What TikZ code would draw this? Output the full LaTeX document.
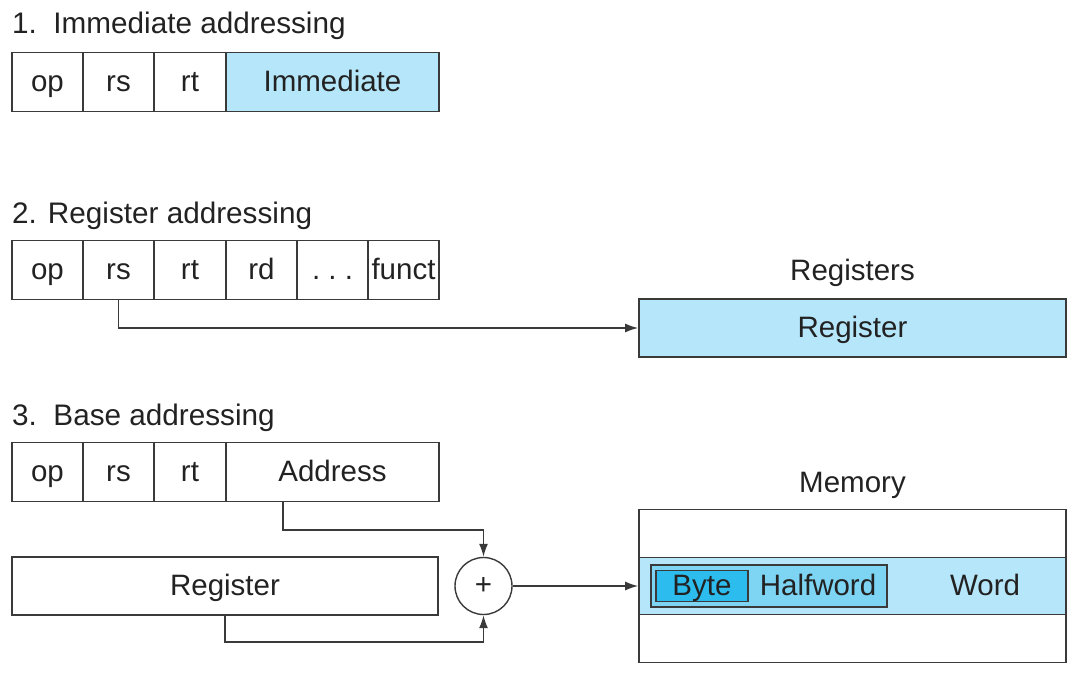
\documentclass[tikz,border=0pt]{standalone}
\usepackage{fontspec}
\setmainfont{Liberation Sans}
\usetikzlibrary{arrows.meta}
\definecolor{lineC}{HTML}{3A3A3A}
\definecolor{lightB}{HTML}{B5E6F9}
\definecolor{midB}{HTML}{7DD4F3}
\definecolor{byteB}{HTML}{2CBDEE}
\definecolor{txtC}{HTML}{222222}
\tikzset{
  cell/.style={draw=lineC, line width=1.6pt, minimum height=59pt, inner sep=0pt, text=txtC, text height=22pt, text depth=4pt},
  titletxt/.style={anchor=base west, inner sep=0pt, text=txtC, font=\fontsize{29.7}{34}\selectfont},
  plain/.style={inner sep=0pt, text=txtC, text height=22pt, text depth=4pt},
  conn/.style={draw=lineC, line width=1.5pt},
  arr/.style={conn, -{Latex[length=13pt,width=9pt]}},
}
\begin{document}
\begin{tikzpicture}[x=1pt,y=-1pt, font=\fontsize{29.5}{34}\selectfont]
\useasboundingbox (0,0) rectangle (1085,675);

% 1. Immediate addressing
\node[titletxt] (t1) at (12,33.5) {1.\ \ Immediate addressing};
\node[cell, minimum width=71pt] (a1) at (47.5,82) {op};
\node[cell, minimum width=71pt] (a2) at (118.5,82) {rs};
\node[cell, minimum width=72pt] (a3) at (190,82) {rt};
\node[cell, minimum width=213pt, fill=lightB] (a4) at (332.5,82) {Immediate};

% 2. Register addressing
\node[titletxt] (t2) at (12,223.5) {2. Register addressing};
\node[cell, minimum width=71pt] (b1) at (47.5,270) {op};
\node[cell, minimum width=71pt] (b2) at (118.5,270) {rs};
\node[cell, minimum width=72pt] (b3) at (190,270) {rt};
\node[cell, minimum width=71pt] (b4) at (261.5,270) {rd};
\node[cell, minimum width=71pt] (b5) at (332.5,270) {.\ .\ .};
\node[cell, minimum width=71pt] (b6) at (403.5,270) {funct};

\node[plain] (regs) at (852.5,271) {Registers};
\node[cell, minimum width=427pt, minimum height=58pt, fill=lightB] (reg) at (852.5,328) {Register};
\coordinate (r1) at (118.5,328);
\draw[arr] (b2.south) -- (r1) -- (reg.west);

% 3. Base addressing
\node[titletxt] (t3) at (12,425.5) {3.\ \ Base addressing};
\node[cell, minimum width=71pt] (c1) at (47.5,472) {op};
\node[cell, minimum width=71pt] (c2) at (118.5,472) {rs};
\node[cell, minimum width=72pt] (c3) at (190,472) {rt};
\node[cell, minimum width=213pt] (c4) at (332.5,472) {Address};

\node[cell, minimum width=426pt, minimum height=58pt] (breg) at (225,586) {Register};
\node[draw=lineC, line width=1.4pt, circle, minimum size=57pt, inner sep=0pt, text=txtC] (plus) at (483.5,586) {+};

\coordinate (p1) at (283,530);
\coordinate (p2) at (483.5,530);
\draw[arr] (c4.south -| p1) -- (p1) -- (p2) -- (plus.north);
\coordinate (q1) at (225,642);
\coordinate (q2) at (483.5,642);
\draw[arr] (breg.south) -- (q1) -- (q2) -- (plus.south);

% Memory
\node[plain] (memt) at (852.5,483) {Memory};
\node[cell, minimum width=427pt, minimum height=153pt] (mem) at (852.5,586) {};
\node[cell, minimum width=427pt, minimum height=57pt, fill=lightB] (band) at (852.5,586) {};
\node[draw=lineC, line width=1.2pt, fill=midB, minimum width=236pt, minimum height=42pt, inner sep=0pt] (hw) at (769,586) {};
\node[draw=lineC, line width=1.2pt, fill=byteB, minimum width=92pt, minimum height=31pt, inner sep=0pt, text=txtC, text height=22pt, text depth=4pt] (byte) at (702,586) {Byte};
\node[plain] (hwt) at (818,586) {Halfword};
\node[plain] (word) at (985,586) {Word};

\draw[arr] (plus.east) -- (band.west);
\end{tikzpicture}
\end{document}
